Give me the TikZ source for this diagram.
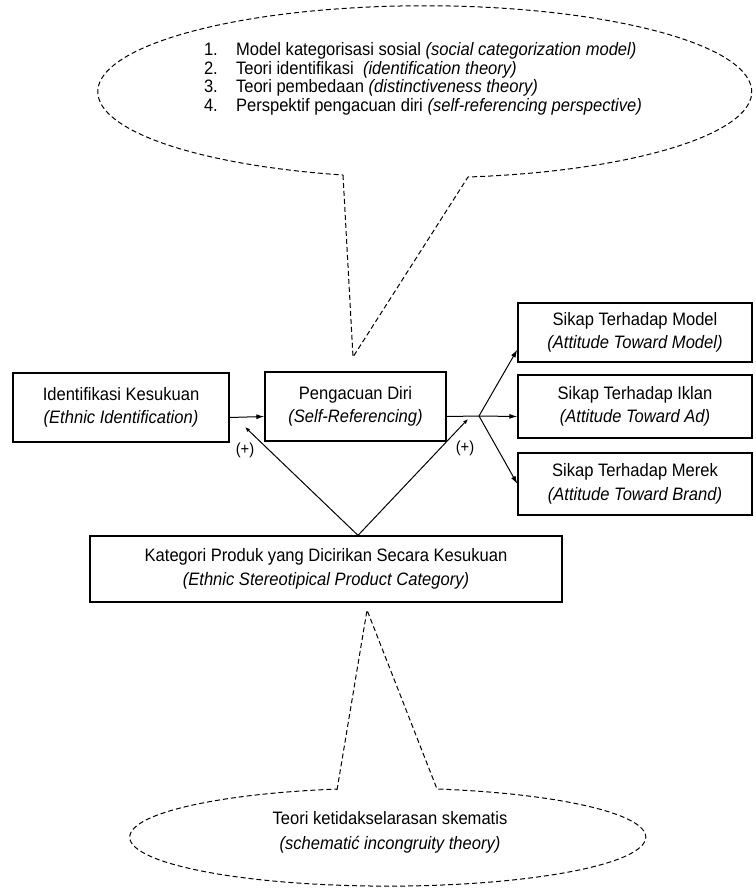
\documentclass[tikz,border=0pt]{standalone}
\usepackage{fontspec}
\setmainfont{Liberation Sans}[FakeStretch=0.92]
\usetikzlibrary{arrows.meta}

\begin{document}
\begin{tikzpicture}[x=1pt,y=-1pt,line width=1pt,>={Latex[length=8pt,width=5pt]},
  kotak/.style={draw,line width=1.3pt,align=center,inner sep=0pt,
    font=\fontsize{18}{23.5}\selectfont},
  garis/.style={dash pattern=on 5pt off 3pt,line width=1pt},
  teks/.style={inner sep=0pt,font=\fontsize{18}{18.5}\selectfont},
  tanda/.style={inner sep=0pt,font=\fontsize{16}{18}\selectfont}]
\useasboundingbox (0,0) rectangle (755,888);

\node[kotak,minimum width=216pt,minimum height=69pt](ident)at(121,407.5)
  {Identifikasi Kesukuan\\\textit{(Ethnic Identification)}};
\node[kotak,minimum width=181pt,minimum height=69pt](self)at(355.5,406.5)
  {Pengacuan Diri\\\textit{(Self-Referencing)}};
\node[kotak,minimum width=234pt,minimum height=59pt](model)at(635,332.5)
  {Sikap Terhadap Model\\\textit{(Attitude Toward Model)}};
\node[kotak,minimum width=234pt,minimum height=63pt](ad)at(635,406.5)
  {Sikap Terhadap Iklan\\\textit{(Attitude Toward Ad)}};
\node[kotak,minimum width=234pt,minimum height=62pt](brand)at(635,484)
  {Sikap Terhadap Merek\\\textit{(Attitude Toward Brand)}};
\node[kotak,minimum width=472pt,minimum height=66pt](cat)at(326,569)
  {Kategori Produk yang Dicirikan Secara Kesukuan\\\textit{(Ethnic Stereotipical Product Category)}};

\coordinate(fork)at(479,416);
\coordinate(apex)at([xshift=32pt]cat.north);
\coordinate(mL)at(245,427);
\coordinate(mR)at(468,419);

\draw[->]([yshift=-10pt]ident.east)--([yshift=-10pt]self.west);
\draw([yshift=-10pt]self.east)--(fork);
\draw[->](fork)--([yshift=-17pt]model.west);
\draw[->](fork)--([yshift=-10pt]ad.west);
\draw[->](fork)--(brand.west);
\draw[-{Latex[length=5pt,width=4pt]}](apex)--(mL);
\draw[-{Latex[length=5pt,width=4pt]}](apex)--(mR);
\node[tanda](plusL)at(245,450){(+)};
\node[tanda](plusR)at(465,448){(+)};

\draw[garis](343,175)--(353,357)--(468,177)
  arc[start angle=82.4,end angle=-255.5,x radius=327,y radius=86]--cycle;
\node[teks,align=left](teori)at(423,79)
  {\makebox[32pt][l]{1.}Model kategorisasi sosial \textit{(social categorization model)}\\
   \makebox[32pt][l]{2.}Teori identifikasi\ \ \textit{(identification theory)}\\
   \makebox[32pt][l]{3.}Teori pembedaan \textit{(distinctiveness theory)}\\
   \makebox[32pt][l]{4.}Perspektif pengacuan diri \textit{(self-referencing perspective)}};

\draw[garis](337,790)--(367,610)--(437,789)
  arc[start angle=-79,end angle=258.6,x radius=258,y radius=49]--cycle;
\node[teks,align=center,font=\fontsize{18}{25}\selectfont](skema)at(390,832)
  {Teori ketidakselarasan skematis\\\textit{(schemati\'c incongruity theory)}};
\end{tikzpicture}
\end{document}
